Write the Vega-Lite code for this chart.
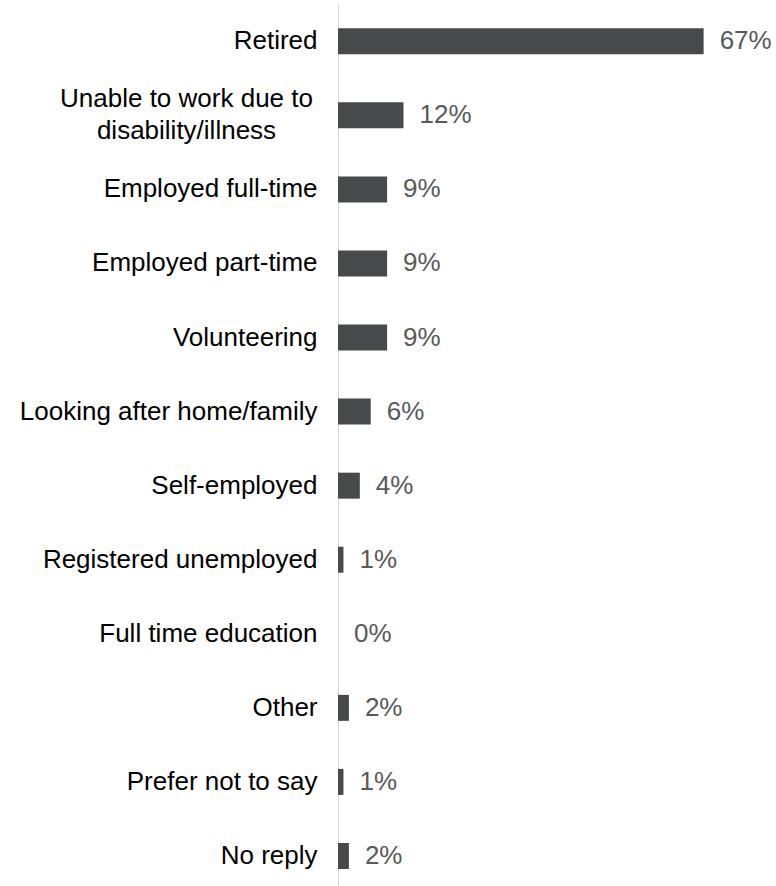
{
  "$schema": "https://vega.github.io/schema/vega-lite/v6.json",
  "width": 438,
  "height": 882,
  "autosize": {"type": "none"},
  "padding": {"left": 338, "top": 4, "right": 0, "bottom": 0},
  "background": "white",
  "config": {"view": {"stroke": null}, "font": "Liberation Sans"},
  "data": {
    "values": [
      {"status": "Retired", "pct": 0.67},
      {"status": "Unable to work due to disability/illness", "pct": 0.12},
      {"status": "Employed full-time", "pct": 0.09},
      {"status": "Employed part-time", "pct": 0.09},
      {"status": "Volunteering", "pct": 0.09},
      {"status": "Looking after home/family", "pct": 0.06},
      {"status": "Self-employed", "pct": 0.04},
      {"status": "Registered unemployed", "pct": 0.01},
      {"status": "Full time education", "pct": 0.0},
      {"status": "Other", "pct": 0.02},
      {"status": "Prefer not to say", "pct": 0.01},
      {"status": "No reply", "pct": 0.02}
    ]
  },
  "encoding": {
    "y": {
      "field": "status",
      "type": "nominal",
      "sort": null,
      "scale": {"paddingInner": 0.649, "paddingOuter": 0.279, "align": 0.588},
      "axis": {
        "title": null,
        "grid": false,
        "domain": true,
        "domainColor": "#d9d9d9",
        "domainWidth": 1,
        "ticks": false,
        "tickSize": 0,
        "labelFont": "Liberation Sans",
        "labelFontSize": 26,
        "labelColor": "#000000",
        "labelLimit": 400,
        "labelLineHeight": 32,
        "labelPadding": {
          "condition": {"test": "datum.value === 'Unable to work due to disability/illness'", "value": 152},
          "value": 21
        },
        "labelAlign": {
          "condition": {"test": "datum.value === 'Unable to work due to disability/illness'", "value": "center"},
          "value": "right"
        },
        "labelOffset": {
          "condition": {"test": "datum.value === 'Unable to work due to disability/illness'", "value": -16},
          "value": 0
        },
        "labelExpr": "datum.label === 'Unable to work due to disability/illness' ? ['Unable to work due to', 'disability/illness'] : ((datum.label === 'Volunteering' || datum.label === 'Prefer not to say') ? datum.label + '\u00a0' : datum.label)"
      }
    }
  },
  "layer": [
    {
      "mark": {"type": "bar", "color": "#48494b"},
      "encoding": {
        "x": {"field": "pct", "type": "quantitative", "scale": {"domain": [0, 0.8026], "nice": false, "zero": true}, "axis": null}
      }
    },
    {
      "mark": {"type": "text", "align": "left", "baseline": "middle", "dx": 16, "fontSize": 26, "font": "Liberation Sans", "color": "#595959"},
      "encoding": {
        "x": {"field": "pct", "type": "quantitative"},
        "text": {"field": "pct", "type": "quantitative", "format": ".0%"}
      }
    }
  ]
}
